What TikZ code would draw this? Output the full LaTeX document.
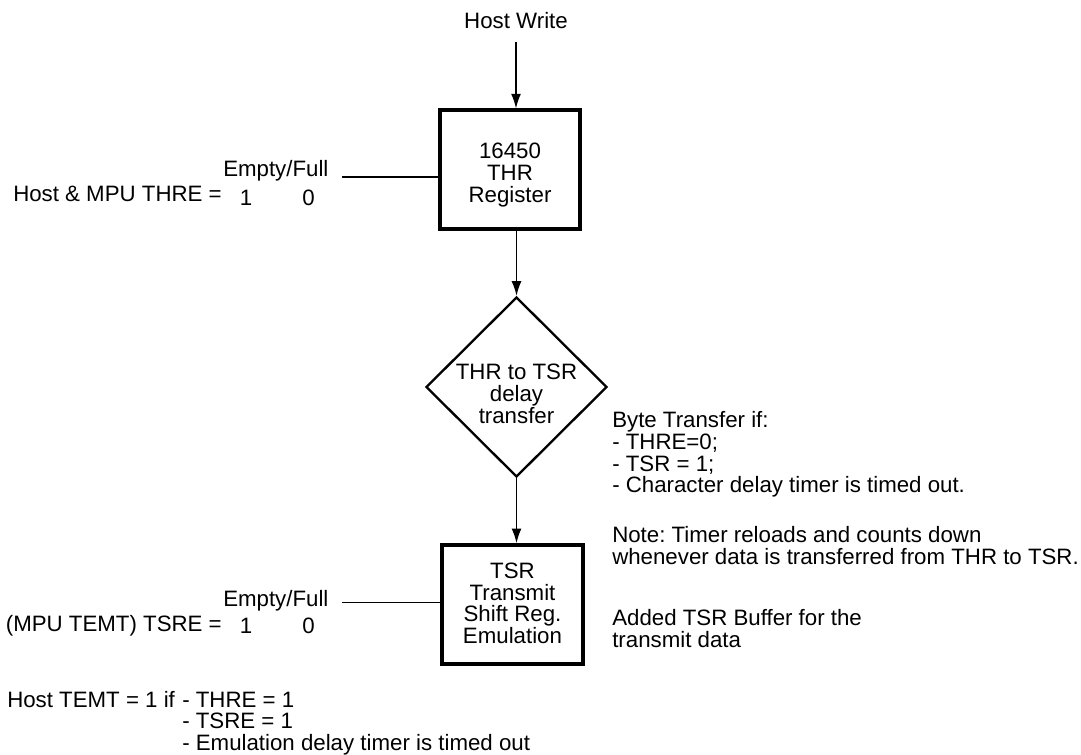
\documentclass[tikz,border=0pt]{standalone}
\usepackage{fontspec}
\setmainfont{Liberation Sans}
\usetikzlibrary{shapes.geometric,arrows.meta}
\frenchspacing
\begin{document}
\begin{tikzpicture}[x=0.75pt, y=-0.75pt,
  every node/.style={font=\fontsize{16.7}{16.4}\selectfont, inner sep=0pt},
  regbox/.style={draw, line width=3pt, minimum width=105.5pt, minimum height=89pt},
  decision/.style={draw, diamond, line width=1.75pt, minimum width=135.75pt, minimum height=135pt},
  flow/.style={line width=1.1pt, -{Latex[length=11pt,width=7.5pt]}},
  tap/.style={line width=1.1pt},
  txt/.style={align=left, anchor=north west}]
  \useasboundingbox (0,0) rectangle (1081,754);

  % main chain
  \node[anchor=base, outer ysep=9.75pt] (hostwr) at (516,28.5) {Host Write};
  \node[regbox] (thr) at (510,169.75) {};
  \node[align=center] (thrlbl) at (510,174.9) {16450\\THR\\Register};
  \node[decision] (xfer) at (516.5,387) {};
  \node[align=center] (xferlbl) at (516.5,393.8) {THR to TSR\\delay\\transfer};
  \node[regbox] (tsr) at (512.5,604.5) {};
  \node[align=center] (tsrlbl) at (512.5,603.3) {TSR\\Transmit\\Shift Reg.\\Emulation};

  \draw[flow] (hostwr.south) -- (hostwr.south |- thr.north);
  \draw[flow] (thr.south -| xfer.north) -- (xfer.north);
  \draw[flow] (xfer.south) -- (xfer.south |- tsr.north);

  % THR empty/full flag
  \node[anchor=base west] (thrfull) at (223,176.7) {Empty/Full};
  \node[anchor=base east] (thrre) at (222,201.7) {Host \& MPU THRE =};
  \node[anchor=base] (throne) at (246,205) {1};
  \node[anchor=base] (thrzero) at (308.5,205) {0};
  \coordinate (thrtap) at (342,177);
  \draw[tap] (thrtap) -- (thrtap -| thr.west);

  % TSR empty/full flag
  \node[anchor=base west] (tsrfull) at (223,606.7) {Empty/Full};
  \node[anchor=base east] (tsrre) at (222,631) {(MPU TEMT) TSRE =};
  \node[anchor=base] (tsrone) at (246,633) {1};
  \node[anchor=base] (tsrzero) at (308.5,633) {0};
  \coordinate (tsrtap) at (342,602.5);
  \draw[tap] (tsrtap) -- (tsrtap -| tsr.west);

  % notes
  \node[txt] (bytecond) at (612,410.9) {Byte Transfer if:\\- THRE=0;\\- TSR = 1;\\- Character delay timer is timed out.};
  \node[txt] (timernote) at (612,525.9) {Note: Timer reloads and counts down\\whenever data is transferred from THR to TSR.};
  \node[txt] (bufnote) at (612,609.2) {Added TSR Buffer for the\\transmit data};

  \node[anchor=base west] (temt) at (7,707.3) {Host TEMT = 1 if};
  \node[txt] (temtcond) at (182,691.5) {- THRE = 1\\- TSRE = 1\\- Emulation delay timer is timed out};
\end{tikzpicture}
\end{document}
